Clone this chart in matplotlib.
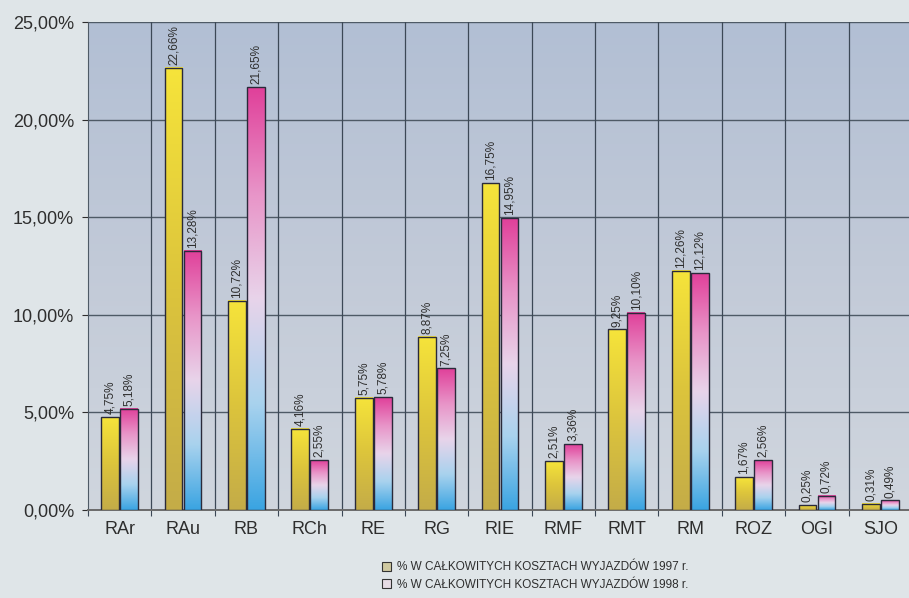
import matplotlib.pyplot as plt
import numpy as np
from matplotlib.colors import LinearSegmentedColormap
from matplotlib.patches import Patch
from matplotlib.ticker import FuncFormatter, FixedLocator

plt.rcParams["font.family"] = ["Liberation Sans", "DejaVu Sans"]

# Data
categories = ["RAr", "RAu", "RB", "RCh", "RE", "RG", "RIE", "RMF", "RMT", "RM", "ROZ", "OGI", "SJO"]
share_1997 = [4.75, 22.66, 10.72, 4.16, 5.75, 8.87, 16.75, 2.51, 9.25, 12.26, 1.67, 0.25, 0.31]
share_1998 = [5.18, 13.28, 21.65, 2.55, 5.78, 7.25, 14.95, 3.36, 10.10, 12.12, 2.56, 0.72, 0.49]
series_labels = ["% W CAŁKOWITYCH KOSZTACH WYJAZDÓW 1997 r.",
                 "% W CAŁKOWITYCH KOSZTACH WYJAZDÓW 1998 r."]

fig_bg = "#dfe5e8"
text_col = "#2e2e2e"
cmap_yellow = LinearSegmentedColormap.from_list("y", ["#c4ac48", "#dcc43c", "#f6e43a"])
cmap_pink = LinearSegmentedColormap.from_list("p", ["#3aa4e2", "#a8d2ee", "#e8d4ea", "#e894c8", "#e0409a"])
cmap_bg = LinearSegmentedColormap.from_list("bg", ["#d0d6de", "#c2cad8", "#b2bfd4"])

fig = plt.figure(figsize=(9.09, 5.98), dpi=100, facecolor=fig_bg)
ax = fig.add_axes([88 / 909, 1 - 510 / 598, (912 - 88) / 909, (510 - 22) / 598])

x = np.arange(len(categories))
width = 0.28
offset = 0.15
grad = np.linspace(0, 1, 256).reshape(-1, 1)

# background gradient of the plot area
ax.imshow(grad, extent=[-0.5, len(categories) - 0.5, 0, 25], origin="lower",
          cmap=cmap_bg, aspect="auto", zorder=0)

def gradient_bars(xs, vals, cmap):
    for xi, v in zip(xs, vals):
        ax.imshow(grad, extent=[xi - width / 2, xi + width / 2, 0, v], origin="lower",
                  cmap=cmap, aspect="auto", zorder=3)
    ax.bar(xs, vals, width, fill=False, edgecolor="#2a2a3a", linewidth=1.0, zorder=4)

gradient_bars(x - offset, share_1997, cmap_yellow)
gradient_bars(x + offset, share_1998, cmap_pink)

def pct(v):
    return f"{v:.2f}".replace(".", ",") + "%"

for xi, v in zip(x - offset, share_1997):
    ax.text(xi, v + 0.15, pct(v), rotation=90, ha="center", va="bottom",
            fontsize=8.5, color=text_col, zorder=5, clip_on=False)
for xi, v in zip(x + offset, share_1998):
    ax.text(xi, v + 0.15, pct(v), rotation=90, ha="center", va="bottom",
            fontsize=8.5, color=text_col, zorder=5, clip_on=False)

ax.set_xlim(-0.5, len(categories) - 0.5)
ax.set_ylim(0, 25)

# grid
for yv in range(5, 26, 5):
    ax.axhline(yv, color="#4e5a66", linewidth=1.0, zorder=2)
for b in np.arange(0.5, len(categories) - 0.5, 1):
    ax.axvline(b, color="#3c4856", linewidth=0.9, zorder=2)

ax.set_yticks(range(0, 26, 5))
ax.yaxis.set_major_formatter(FuncFormatter(lambda v, p: f"{v:.2f}".replace(".", ",") + "%"))
ax.tick_params(axis="y", labelsize=13, colors=text_col, length=4, width=0.8, pad=6)

ax.set_xticks(x)
ax.set_xticklabels(categories)
ax.tick_params(axis="x", which="major", length=0, labelsize=13, colors=text_col, pad=8)
ax.xaxis.set_minor_locator(FixedLocator(np.arange(-0.5, len(categories), 1)))
ax.tick_params(axis="x", which="minor", length=4, width=0.8, color="#3c4856")

for s in ["top", "right"]:
    ax.spines[s].set_visible(False)
ax.spines["left"].set_color("#4e5a66")
ax.spines["bottom"].set_color("#6a6a6a")
ax.spines["bottom"].set_linewidth(1.4)

handles = [Patch(facecolor="#cfc9a0", edgecolor="#333333", linewidth=0.8),
           Patch(facecolor="#e6dbe4", edgecolor="#333333", linewidth=0.8)]
fig.legend(handles, series_labels, loc="center", bbox_to_anchor=(535 / 909, 1 - 576 / 598),
           frameon=False, fontsize=8.5, labelcolor=text_col, handlelength=0.8, handleheight=0.8,
           handletextpad=0.5, labelspacing=0.45, borderpad=0)

fig.savefig("out.png", dpi=100, facecolor=fig_bg)
